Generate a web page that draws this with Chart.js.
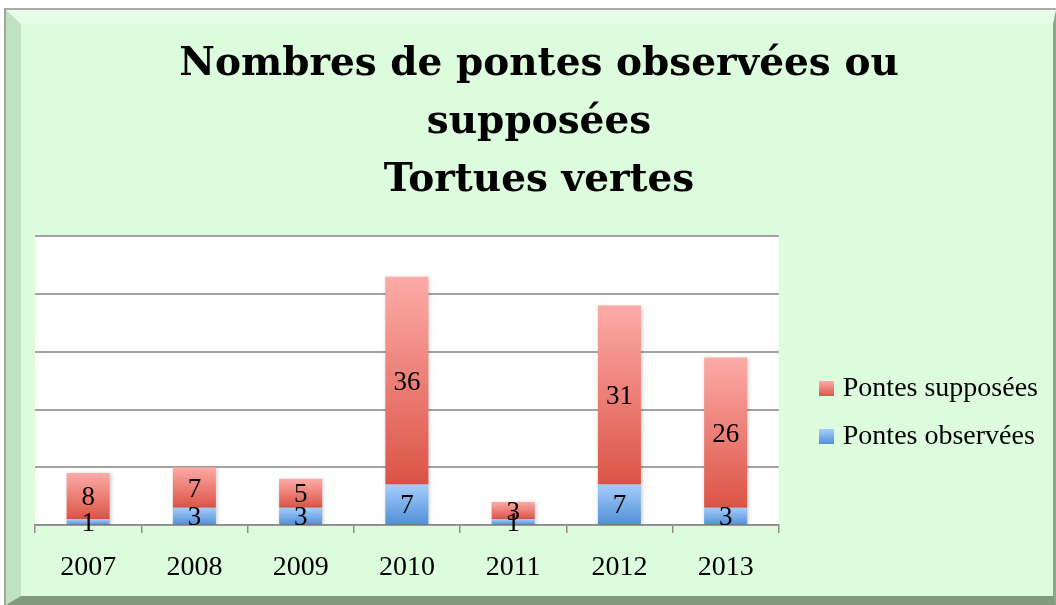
<!DOCTYPE html>
<html>
<head>
<meta charset="utf-8">
<script src="https://cdn.jsdelivr.net/npm/chart.js@4.4.1/dist/chart.umd.min.js"></script>
<style>
  html, body { margin: 0; padding: 0; background: #fff; }
  #wrap { position: relative; width: 1056px; height: 605px; overflow: hidden; }
  .edge { position: absolute; left: 4px; top: 8px; right: 0; bottom: 0; border-left: 2px solid #a3a3a3; border-top: 2px solid #ababab; }
  .frame { position: absolute; inset: 0; background: #ddfbdd; border-left: 15px solid #bfe3c2; border-top: 14px solid #e8fde8; border-right: 3px solid #8aa98a; border-bottom: 9px solid #83997f; }
  #chart { position: absolute; left: 0; top: 0; }
</style>
</head>
<body>
<div id="wrap">
  <div class="edge"><div class="frame"></div></div>
  <canvas id="chart" width="1056" height="605"></canvas>
</div>
<script>
// data
const years = ['2007', '2008', '2009', '2010', '2011', '2012', '2013'];
const observees = [1, 3, 3, 7, 1, 7, 3];
const supposees = [8, 7, 5, 36, 3, 31, 26];
const yMax = 50;
const yStep = 10;

const serif = 'Liberation Serif';
const stackTop = years.map((y, i) => observees[i] + supposees[i]);
const zeros = years.map(() => 0);

const blue = ['#a6cdfb', '#4f8fd8'];
const red = ['#fdaba8', '#db5446'];

// each segment gets its own vertical gradient
function segmentFill(bottoms, tops, light, dark) {
  return (c) => {
    const chart = c.chart;
    const y = chart.scales.y;
    if (c.type !== 'data' || !chart.chartArea || !y) return dark;
    const top = y.getPixelForValue(tops[c.dataIndex]);
    const bot = y.getPixelForValue(bottoms[c.dataIndex]);
    const g = chart.ctx.createLinearGradient(0, top, 0, bot);
    g.addColorStop(0, light);
    g.addColorStop(1, dark);
    return g;
  };
}

// small gradient squares for the legend
function swatch(cols) {
  const c = document.createElement('canvas');
  c.width = 15; c.height = 15;
  const x = c.getContext('2d');
  const g = x.createLinearGradient(0, 0, 0, 15);
  g.addColorStop(0, cols[0]);
  g.addColorStop(1, cols[1]);
  x.fillStyle = g;
  x.fillRect(0, 0, 15, 15);
  return c;
}
const swatches = [swatch(blue), swatch(red)];

// white plot background, only inside the chart area
const plotBg = {
  id: 'plotBg',
  beforeDraw(chart) {
    const a = chart.chartArea;
    chart.ctx.save();
    chart.ctx.fillStyle = '#ffffff';
    chart.ctx.fillRect(a.left, a.top, a.right - a.left, a.bottom - a.top);
    chart.ctx.restore();
  }
};

// soft shadow on bars + value labels centred in each segment
const barExtras = {
  id: 'barExtras',
  beforeDatasetsDraw(chart) {
    const ctx = chart.ctx;
    ctx.save();
    ctx.shadowColor = 'rgba(0,0,0,0.22)';
    ctx.shadowBlur = 4;
    ctx.shadowOffsetX = 1;
    ctx.shadowOffsetY = 1;
  },
  afterDatasetsDraw(chart) {
    const ctx = chart.ctx;
    ctx.restore();
    ctx.save();
    ctx.font = '27px "' + serif + '"';
    ctx.fillStyle = '#000';
    ctx.textAlign = 'center';
    ctx.textBaseline = 'middle';
    chart.data.datasets.forEach((ds, di) => {
      chart.getDatasetMeta(di).data.forEach((bar, i) => {
        ctx.fillText(String(ds.data[i]), bar.x, (bar.y + bar.base) / 2 + 2);
      });
    });
    ctx.restore();
  }
};

new Chart(document.getElementById('chart'), {
  type: 'bar',
  data: {
    labels: years,
    datasets: [
      {
        label: 'Pontes observées',
        data: observees,
        backgroundColor: segmentFill(zeros, observees, blue[0], blue[1]),
        barPercentage: 0.405,
        categoryPercentage: 1
      },
      {
        label: 'Pontes supposées',
        data: supposees,
        backgroundColor: segmentFill(observees, stackTop, red[0], red[1]),
        barPercentage: 0.405,
        categoryPercentage: 1
      }
    ]
  },
  options: {
    responsive: false,
    animation: false,
    layout: { padding: { left: 30, right: 8, top: 0, bottom: 18 } },
    plugins: {
      title: {
        display: true,
        text: ['Nombres de pontes observées ou', 'supposées', 'Tortues vertes'],
        color: '#000',
        font: { family: 'DejaVu Serif', size: 39, weight: 'bold', lineHeight: 1.49 },
        padding: { top: 36, bottom: 26 }
      },
      legend: {
        position: 'right',
        fullSize: false,
        reverse: true,
        maxWidth: 320,
        title: { display: true, text: '', padding: { top: 50, bottom: 0 } },
        labels: {
          color: '#000',
          font: { family: serif, size: 28 },
          usePointStyle: true,
          pointStyleWidth: 4,
          boxHeight: 15,
          padding: 20,
          generateLabels(chart) {
            const items = Chart.defaults.plugins.legend.labels.generateLabels(chart);
            items.forEach(it => {
              it.pointStyle = swatches[it.datasetIndex];
              it.lineWidth = 0;
            });
            return items;
          }
        }
      },
      tooltip: { enabled: false }
    },
    scales: {
      x: {
        stacked: true,
        grid: { offset: true, drawOnChartArea: false, drawTicks: true, tickLength: 8, color: '#8c8c8c', lineWidth: 1.5 },
        border: { color: '#8c8c8c', width: 1.5 },
        ticks: { color: '#000', font: { family: serif, size: 28 }, padding: 18, maxRotation: 0 },
        afterFit(axis) { axis.height = 62; }
      },
      y: {
        stacked: true,
        min: 0,
        max: yMax,
        ticks: { display: false, stepSize: yStep },
        grid: { color: '#a3a3a3', lineWidth: 2, drawTicks: false },
        border: { display: false },
        afterFit(axis) { axis.width = 5; }
      },
      ySpacer: {
        position: 'right',
        min: 0,
        max: 1,
        ticks: { display: false },
        grid: { display: false },
        border: { display: false },
        afterFit(axis) { axis.width = 26; }
      }
    }
  },
  plugins: [plotBg, barExtras]
});
</script>
</body>
</html>
